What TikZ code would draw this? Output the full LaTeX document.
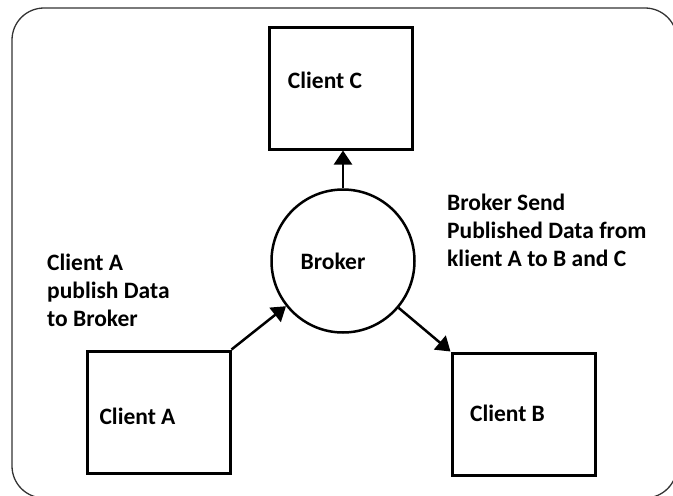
\documentclass[tikz,border=0pt]{standalone}
\usepackage{fontspec}
\setmainfont{Carlito}
\usetikzlibrary{arrows.meta}

\tikzset{
  box/.style={draw, line width=3pt, rectangle, minimum width=143pt, minimum height=122pt, inner sep=0pt},
  hub/.style={draw, line width=2.5pt, circle, minimum size=143pt, inner sep=0pt},
  arr/.style={line width=2.5pt, -{Triangle[width=18pt,length=14pt]}},
  note/.style={align=left, anchor=north west, inner sep=0pt},
}

\begin{document}
\begin{tikzpicture}[x=1pt, y=-1pt, font=\fontsize{23.5}{28}\selectfont\bfseries]
			%%%%% FRAME %%%%%
			\useasboundingbox (0, 0) rectangle (673, 496);
			\clip (0, 0) rectangle (673, 496);
			\draw[line width=1.3pt, color=black!80, rounded corners=32pt] (12, 8) rectangle (677, 498);
			
			%%%%% NODES %%%%%
			\node[box, label={[xshift=-16pt, yshift=8pt]center:Client C}] (clientC) at (341, 88) {};
			\node[hub, label={[xshift=-10pt]center:Broker}] (broker) at (343, 261) {};
			\node[box, label={[xshift=-21pt, yshift=-4pt]center:Client A}] (clientA) at (158.5, 412) {};
			\node[box, label={[xshift=-16pt, yshift=1pt]center:Client B}] (clientB) at (523.5, 414) {};
			
			\node[note] (pubnote) at (47, 253.5) {Client A\\publish Data\\to Broker};
			\node[note] (sendnote) at (447, 193.5) {Broker Send\\Published Data from\\klient A to B and C};
			
			%%%%% ARROWS %%%%%
			\draw[arr] (broker) -- (broker |- clientC.south);
			\draw[arr] (clientA.north east) -- (broker);
			\draw[arr] (broker) -- (clientB.north west);
\end{tikzpicture}
\end{document}
